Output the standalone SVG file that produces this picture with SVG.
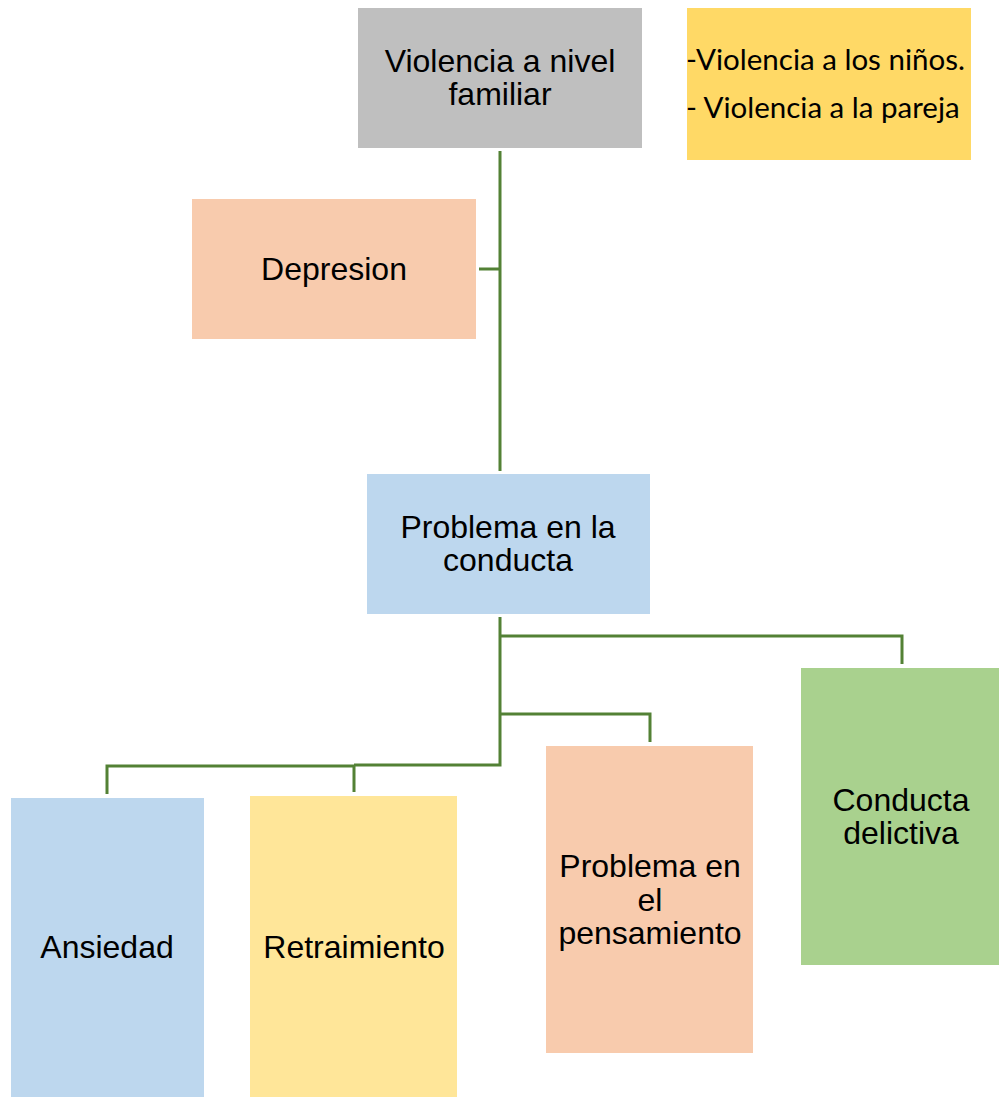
<svg xmlns="http://www.w3.org/2000/svg" width="1000" height="1097" viewBox="0 0 1000 1097">
<style>
.t{font-family:"Liberation Sans",Arial,sans-serif;font-size:32px;fill:#000;text-anchor:middle}
.y{font-family:Lato,"Open Sans",sans-serif;font-size:29.5px;fill:#000}
.c{fill:none;stroke:#538135;stroke-width:3}
</style>
<rect width="1000" height="1097" fill="#fff"/>
<g id="connectors">
<path class="c" d="M500 151V471M479 269H500"/>
<path class="c" d="M500 617V765H354M500 636H902V664M500 714H650V742M354 766H107V794M354 766V792"/>
</g>
<g id="n-violencia"><rect x="358" y="8" width="284" height="140" fill="#BFBFBF"/><text class="t" x="500" y="72">Violencia a nivel</text><text class="t" x="500" y="105">familiar</text></g>
<g id="n-tipos"><rect x="687" y="8" width="284" height="152" fill="#FFD966"/><text class="y" x="686" y="70">-Violencia a los niños.</text><text class="y" x="686" y="118">- Violencia a la pareja</text></g>
<g id="n-depresion"><rect x="192" y="199" width="284" height="140" fill="#F8CBAD"/><text class="t" x="334" y="280">Depresion</text></g>
<g id="n-conducta"><rect x="367" y="474" width="283" height="140" fill="#BDD7EE"/><text class="t" x="508" y="538">Problema en la</text><text class="t" x="508" y="571">conducta</text></g>
<g id="n-ansiedad"><rect x="11" y="798" width="193" height="299" fill="#BDD7EE"/><text class="t" x="107" y="958">Ansiedad</text></g>
<g id="n-retraimiento"><rect x="250" y="796" width="207" height="301" fill="#FFE699"/><text class="t" x="354" y="958">Retraimiento</text></g>
<g id="n-pensamiento"><rect x="546" y="746" width="207" height="307" fill="#F8CBAD"/><text class="t" x="650" y="877">Problema en</text><text class="t" x="650" y="911">el</text><text class="t" x="650" y="944">pensamiento</text></g>
<g id="n-delictiva"><rect x="801" y="668" width="198" height="297" fill="#A9D18E"/><text class="t" x="901" y="811">Conducta</text><text class="t" x="901" y="844">delictiva</text></g>
</svg>
